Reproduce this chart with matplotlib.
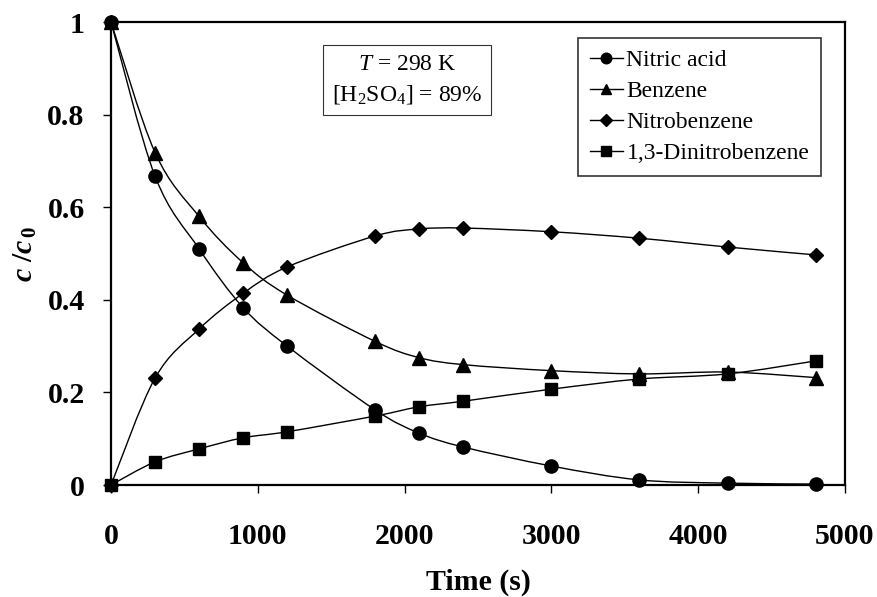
import numpy as np
import matplotlib
matplotlib.use('Agg')
import matplotlib.pyplot as plt
from matplotlib.path import Path
from matplotlib.patches import PathPatch
from matplotlib.lines import Line2D

plt.rcParams['font.family'] = 'Liberation Serif'
plt.rcParams['mathtext.fontset'] = 'custom'
plt.rcParams['mathtext.rm'] = 'Liberation Serif'
plt.rcParams['mathtext.it'] = 'Liberation Serif:italic'
plt.rcParams['mathtext.bf'] = 'Liberation Serif:bold'
plt.rcParams['mathtext.bfit'] = 'Liberation Serif:italic:bold'

time_s = [0, 300, 600, 900, 1200, 1800, 2100, 2400, 3000, 3600, 4200, 4800]
nitric_acid = [1.0, 0.667, 0.51, 0.383, 0.30, 0.162, 0.112, 0.082, 0.041, 0.011, 0.004, 0.002]
benzene = [1.0, 0.718, 0.58, 0.48, 0.41, 0.31, 0.275, 0.26, 0.247, 0.24, 0.244, 0.232]
nitrobenzene = [0.0, 0.231, 0.337, 0.414, 0.471, 0.538, 0.553, 0.555, 0.547, 0.533, 0.514, 0.497]
dinitrobenzene = [0.0, 0.05, 0.078, 0.102, 0.115, 0.149, 0.169, 0.181, 0.207, 0.229, 0.240, 0.268]

series = [
    ('Nitric acid', nitric_acid, 'o', 9.5),
    ('Benzene', benzene, '^', 9.5),
    ('Nitrobenzene', nitrobenzene, 'D', 7.5),
    ('1,3-Dinitrobenzene', dinitrobenzene, 's', 8.5),
]


def smooth_path(x, y):
    # Excel-style smoothed line: cubic Bezier through the points
    x = np.asarray(x, float)
    y = np.asarray(y, float)
    n = len(x)
    verts = [(x[0], y[0])]
    codes = [Path.MOVETO]
    for i in range(n - 1):
        x0, y0 = (x[i - 1], y[i - 1]) if i > 0 else (x[i], y[i])
        x3, y3 = (x[i + 2], y[i + 2]) if i + 2 < n else (x[i + 1], y[i + 1])
        c1 = (x[i] + (x[i + 1] - x0) / 6, y[i] + (y[i + 1] - y0) / 6)
        c2 = (x[i + 1] - (x3 - x[i]) / 6, y[i + 1] - (y3 - y[i]) / 6)
        verts += [c1, c2, (x[i + 1], y[i + 1])]
        codes += [Path.CURVE4] * 3
    return Path(verts, codes)


fig = plt.figure(figsize=(8.77, 5.97), dpi=100)
ax = fig.add_axes([0.1266, 0.1876, 0.8369, 0.7755])

handles = []
for name, vals, mk, ms in series:
    ax.add_patch(PathPatch(smooth_path(time_s, vals), facecolor='none',
                           edgecolor='black', lw=1.0, zorder=2))
    ax.plot(time_s, vals, linestyle='none', marker=mk, ms=ms, color='black',
            zorder=3, clip_on=False)
    handles.append(Line2D([], [], color='black', lw=1.0, marker=mk, ms=ms * 0.8, label=name))

ax.set_xlim(0, 5000)
ax.set_ylim(0, 1)
ax.set_xticks([0, 1000, 2000, 3000, 4000, 5000])
ax.set_yticks([0, 0.2, 0.4, 0.6, 0.8, 1])
ax.set_yticklabels(['0', '0.2', '0.4', '0.6', '0.8', '1'])
for s in ax.spines.values():
    s.set_linewidth(1.6)
ax.tick_params(axis='x', direction='out', length=6, width=1, pad=21,
               labelsize=21.5)
ax.tick_params(axis='y', direction='out', length=6, width=1, pad=13,
               labelsize=21.5)
for lab in ax.get_xticklabels() + ax.get_yticklabels():
    lab.set_fontweight('bold')

ax.set_xlabel('Time (s)', fontsize=21.5, fontweight='bold', labelpad=14)
ax.set_ylabel(r'$\mathbfit{c}\ \mathbf{/}\mathbfit{c}_{\,\mathbf{0}}$', fontsize=21.5,
              labelpad=6)

ax.text(0.403, 0.875, r'$T$ = 298 K' + '\n' + r'[H$_2$SO$_4$] = 89%',
        transform=ax.transAxes, ha='center', va='center', fontsize=17,
        linespacing=1.45,
        bbox=dict(boxstyle='square,pad=0.38', facecolor='white',
                  edgecolor='#333333', linewidth=0.8))

leg = ax.legend(handles=handles, loc='upper right', bbox_to_anchor=(0.9675, 0.966),
                fontsize=17, frameon=True, fancybox=False, edgecolor='black',
                handlelength=1.4, handletextpad=0.15, labelspacing=0.4,
                borderpad=0.5, borderaxespad=0)
leg.get_frame().set_linewidth(1.2)

fig.savefig('out.png', dpi=100)
